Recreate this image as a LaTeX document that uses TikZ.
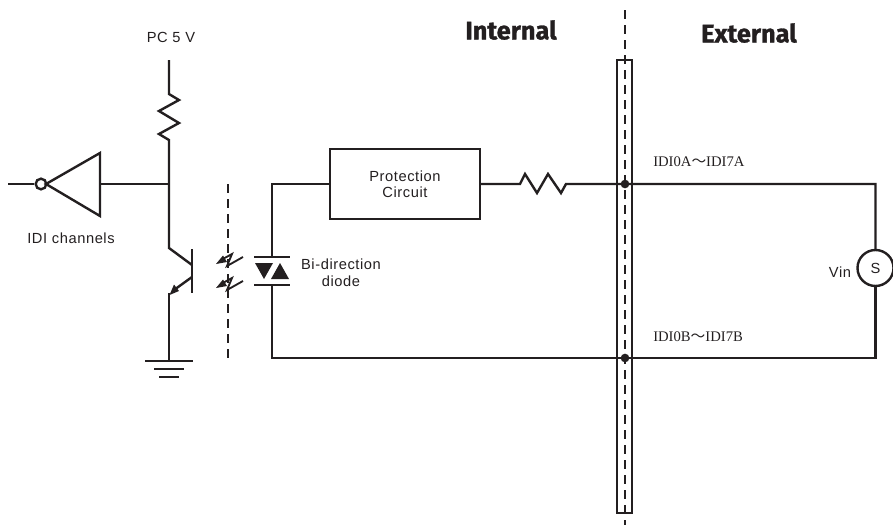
\documentclass[tikz,border=0pt]{standalone}
\usepackage{fontspec}
\setmainfont{Liberation Sans}[LetterSpace=4]
\newfontfamily\heavy{Fira Sans}[BoldFeatures={FakeBold=1.2}]
\newfontfamily\cjk{Noto Sans CJK JP}
\newfontfamily\idi{Liberation Serif}
\usetikzlibrary{arrows.meta}
\definecolor{ink}{HTML}{231F20}
\tikzset{
  wire/.style={draw=ink,line width=1.8pt,line join=miter},
  dashline/.style={draw=ink,line width=1.8pt,dash pattern=on 6.5pt off 4.75pt},
  thinz/.style={draw=ink,line width=1.4pt,line join=miter},
  lbl/.style={text=ink,font=\fontsize{11}{12.6}\selectfont,align=center,inner sep=0pt},
  idilbl/.style={text=ink,font=\idi\fontsize{11}{13}\selectfont,anchor=west,inner sep=0pt},
  head/.style={text=ink,font=\heavy\bfseries\fontsize{19}{22}\selectfont,inner sep=0pt},
  junction/.style={circle,fill=ink,draw=none,minimum size=6.5pt,inner sep=0pt},
}
\begin{document}
\begin{tikzpicture}[x=0.75pt,y=-0.75pt]
\useasboundingbox (0,0) rectangle (893,525);
% labels
\node[lbl] (pc) at (171,37) {PC 5 V};
\node[lbl] (idich) at (71,238) {IDI channels};
\node[lbl] (bidi) at (341,272.5) {Bi-direction\\diode};
\node[lbl] (vin) at (840,272) {Vin};
\node[head] (int) at (511,30) {Internal};
\node[head] (ext) at (749,33) {External};
\node[idilbl] (ia) at (653,162) {IDI0A{\cjk～}IDI7A};
\node[idilbl] (ib) at (653,337) {IDI0B{\cjk～}IDI7B};
% inverter
\coordinate (in) at (8,184);
\node[circle,draw=ink,line width=1.8pt,minimum size=8pt,inner sep=0pt] (bub) at (41,184) {};
\coordinate (ta) at (46,184);
\coordinate (tb) at (100,153);
\coordinate (tc) at (100,216);
\coordinate (to) at (100,184);
\coordinate (node1) at (169,184);
\draw[wire] (in) -- (bub);
\draw[wire] (ta) -- (tb) -- (tc) -- cycle;
\draw[wire] (to) -- (node1);
% pull-up and transistor
\coordinate (vcc) at (169,60);
\coordinate (col) at (169,248);
\draw[wire] (vcc) -- (169,94) -- (179,100) -- (159,111) -- (179,123) -- (159,134) -- (169,140) -- (col) -- (192,265);
\draw[wire] (192,249) -- (192,293);
\coordinate (emi) at (169,293);
\draw[wire] (192,277) -- (174,290);
\fill[ink] (169.5,295) -- (174,284.5) -- (179,291) -- cycle;
\coordinate (gnd) at (169,361);
\draw[wire] (emi) -- (gnd);
\draw[wire] (145,361) -- (193,361);
\draw[wire] (154,369) -- (184,369);
\draw[wire] (159,377) -- (179,377);
% isolation
\coordinate (iso1) at (228,184);
\coordinate (iso2) at (228,360);
\draw[dashline] (iso1) -- (iso2);
% photons
\foreach \dy in {0,24}{
  \draw[thinz] (243,257+\dy) -- (227,266+\dy) -- (232,254+\dy) -- (221,260+\dy);
  \fill[ink] (216,264+\dy) -- (223,255.5+\dy) -- (227,262+\dy) -- cycle;
}
% diode
\coordinate (dtop) at (272,257);
\coordinate (dbot) at (272,285);
\coordinate (jt) at (625,184);
\coordinate (jb) at (625,358);
\node[draw=ink,line width=1.8pt,inner sep=0pt,text=ink,font=\fontsize{11}{12}\selectfont,align=center,minimum width=112.5pt,minimum height=52.5pt] (prot) at (405,184) {Protection\\Circuit};
\draw[wire] (dtop) -- (272,184) -- (prot.west);
\draw[wire] (254,257) -- (290,257);
\draw[wire] (254,285) -- (290,285);
\fill[ink] (255,263) -- (273,263) -- (264,279) -- cycle;
\fill[ink] (271,279) -- (289,279) -- (280,263) -- cycle;
% source
\node[circle,draw=ink,line width=1.8pt,minimum size=27pt,inner sep=0pt,text=ink,font=\fontsize{11}{12}\selectfont] (src) at (875.5,268) {S};
% barrier
\draw[wire] (617,60) rectangle (632,513);
\coordinate (bar1) at (625,10);
\coordinate (bar2) at (625,525);
\draw[dashline] (bar1) -- (bar2);
% external wires
\draw[wire] (prot.east) -- (520,184) -- (525,174) -- (537,193) -- (548,174) -- (561,193) -- (566,184) -- (jt) -- (875.5,184) -- (src.north);
\draw[wire] (dbot) -- (272,358) -- (jb) -- (875.5,358) -- (src.south);
\node[junction] (d1) at (jt) {};
\node[junction] (d2) at (jb) {};
\end{tikzpicture}
\end{document}
